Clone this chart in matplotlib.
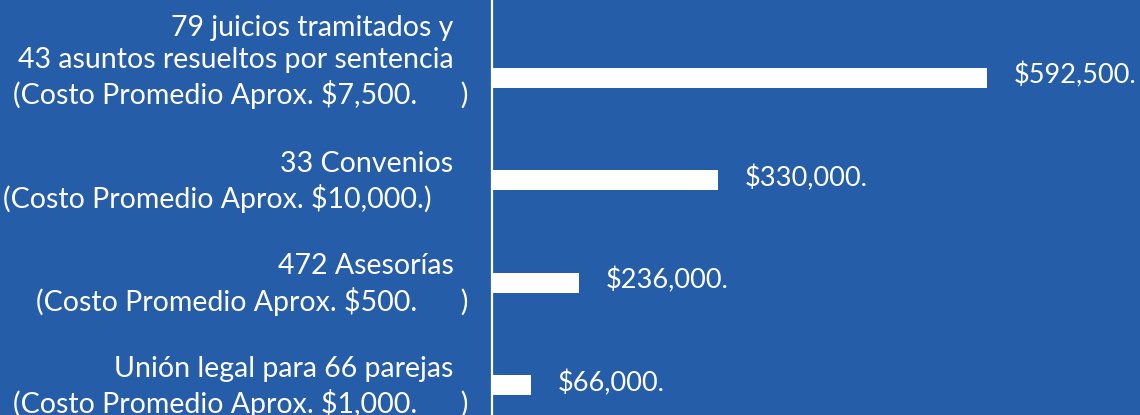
import matplotlib.pyplot as plt

# datos
labels = [
    "79 juicios tramitados y  \n43 asuntos resueltos por sentencia  \n(Costo Promedio Aprox. $7,500.      )",
    "33 Convenios  \n(Costo Promedio Aprox. $10,000.)     ",
    "472 Asesorías  \n(Costo Promedio Aprox. $500.      )",
    "Unión legal para 66 parejas  \n(Costo Promedio Aprox. $1,000.      )",
]
value_labels = ["$592,500.", "$330,000.", "$236,000.", "$66,000."]
# longitudes de barra tal como se ven en la imagen (escala no proporcional)
bar_values = [592500, 270500, 104000, 46700]

BG = "#265DA8"
W, H = 1140, 415

fig = plt.figure(figsize=(W / 100, H / 100), dpi=100, facecolor=BG)
x0 = 492
ax = fig.add_axes([x0 / W, 0, (W - x0) / W, 1], facecolor=BG)

px_per_unit = (987 - x0) / bar_values[0]
ax.set_xlim(0, (W - x0) / px_per_unit)

step = 102.5
top = 77.5
ax.set_ylim((H - top) / step, -top / step)

ypos = list(range(len(bar_values)))
ax.barh(ypos, bar_values, height=20 / step, color="white", edgecolor="none")

font = "Lato"
for i, (lab, val, txt) in enumerate(zip(labels, bar_values, value_labels)):
    n = lab.count("\n") + 1
    ax.annotate(lab, xy=(0, i), xytext=(468 - x0, -2 + (n - 2) * 17.75),
                textcoords="offset pixels", ha="right", va="center",
                multialignment="right", color="white", fontsize=20.5,
                family=font, linespacing=1.3,
                annotation_clip=False)
    ax.annotate(txt, xy=(val, i), xytext=(27, 2), textcoords="offset pixels",
                ha="left", va="center", color="white", fontsize=19.5,
                family=font, annotation_clip=False)

for s in ["top", "right", "bottom"]:
    ax.spines[s].set_visible(False)
ax.spines["left"].set_color("white")
ax.spines["left"].set_linewidth(1.6)
ax.set_xticks([])
ax.set_yticks([])

fig.savefig("out.png", dpi=100, facecolor=BG)
